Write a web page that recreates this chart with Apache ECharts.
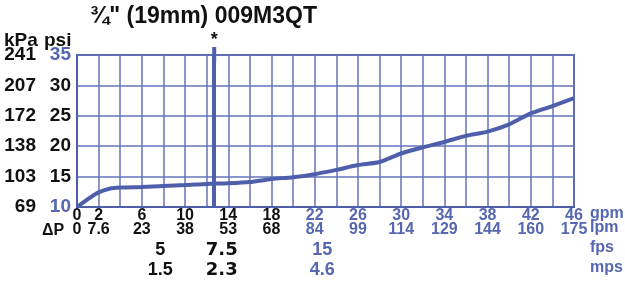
<!DOCTYPE html>
<html>
<head>
<meta charset="utf-8">
<script src="https://cdn.jsdelivr.net/npm/echarts@6/dist/echarts.min.js"></script>
<style>
  html, body { margin: 0; padding: 0; background: #fff; }
  #main { width: 625px; height: 297px; }
</style>
</head>
<body>
<div id="main"></div>
<script>
  // flow vs pressure drop
  const flowGpm = [0, 1, 2, 3, 4, 6, 8, 10, 12, 14, 16, 18, 20, 22, 24, 26, 28, 30, 32, 34, 36, 38, 40, 42, 44, 46];
  const dropPsi = [10, 11.3, 12.4, 13.0, 13.2, 13.3, 13.45, 13.6, 13.8, 13.9, 14.1, 14.6, 14.9, 15.4, 16.1, 16.9, 17.4, 18.8, 19.8, 20.7, 21.7, 22.4, 23.6, 25.4, 26.6, 27.9];

  // bottom scale labels
  const gpmTicks = [0, 2, 6, 10, 14, 18, 22, 26, 30, 34, 38, 42, 46];
  const lpmTicks = ['0', '7.6', '23', '38', '53', '68', '84', '99', '114', '129', '144', '160', '175'];
  // velocity labels (placed at their flow value)
  const velGpm = [7.7, 13.4, 22.7];
  const fpsLabels = ['5', '7.5', '15'];
  const mpsLabels = ['1.5', '2.3', '4.6'];
  // left scale labels
  const psiTicks = [10, 15, 20, 25, 30, 35];
  const kpaTicks = ['69', '103', '138', '172', '207', '241'];
  // marked flow (*)
  const markerGpm = 12.7;

  const BLUE = '#4f5eab';
  const GRID = '#6573bb';
  const TXTBLUE = '#5666b1';
  const SANS = '"Liberation Sans", Arial, sans-serif';
  const HEAVY = '"DejaVu Sans", sans-serif';

  let myChart = echarts.init(document.getElementById('main'));

  let option = {
    animation: false,
    grid: {
      left: 77, right: 51, top: 55, bottom: 90,
      show: true, borderColor: BLUE, borderWidth: 2,
      outerBoundsMode: 'none'
    },
    xAxis: [
      {
        type: 'value', min: 0, max: 46, interval: 2,
        axisLine: { show: true, lineStyle: { color: BLUE, width: 2 } },
        axisTick: { show: false },
        splitLine: { show: true, lineStyle: { color: GRID, width: 1.5 } },
        axisLabel: {
          customValues: gpmTicks,
          margin: 1,
          formatter: function (v) {
            let i = gpmTicks.indexOf(v);
            let s = v >= 22 ? 'u' : 'k';
            return '{' + s + '|' + v + '}\n{' + s + '|' + lpmTicks[i] + '}';
          },
          rich: {
            k: { color: '#111', fontFamily: SANS, fontWeight: 'bold', fontSize: 16, lineHeight: 14.5 },
            u: { color: TXTBLUE, fontFamily: SANS, fontWeight: 'bold', fontSize: 16, lineHeight: 14.5 }
          }
        }
      },
      {
        type: 'value', min: 0, max: 46, position: 'bottom', offset: 32,
        axisLine: { show: false },
        axisTick: { show: false },
        splitLine: { show: false },
        axisLabel: {
          customValues: velGpm,
          margin: 1,
          formatter: function (v) {
            let i = velGpm.indexOf(v);
            let s = ['k', 'b', 'u'][i];
            return '{' + s + '|' + fpsLabels[i] + '}\n{' + s + '|' + mpsLabels[i] + '}';
          },
          rich: {
            k: { color: '#111', fontFamily: SANS, fontWeight: 'bold', fontSize: 18, lineHeight: 20 },
            b: { color: '#111', fontFamily: HEAVY, fontWeight: 'bold', fontSize: 18, lineHeight: 20 },
            u: { color: TXTBLUE, fontFamily: SANS, fontWeight: 'bold', fontSize: 18, lineHeight: 20 }
          }
        }
      }
    ],
    yAxis: {
      type: 'value', min: 10, max: 35, interval: 5,
      axisLine: { show: true, lineStyle: { color: BLUE, width: 2 } },
      axisTick: { show: false },
      splitLine: { show: true, lineStyle: { color: GRID, width: 1.5 } },
      axisLabel: {
        margin: 6,
        formatter: function (v) {
          let i = psiTicks.indexOf(v);
          let p = (v === 10 || v === 35) ? 'pb' : 'p';
          return '{k|' + kpaTicks[i] + '}{' + p + '|' + v + '}';
        },
        rich: {
          k: { color: '#111', fontFamily: SANS, fontWeight: 'bold', fontSize: 19, width: 30, align: 'right' },
          p: { color: '#111', fontFamily: SANS, fontWeight: 'bold', fontSize: 19, width: 35, align: 'right' },
          pb: { color: TXTBLUE, fontFamily: SANS, fontWeight: 'bold', fontSize: 19, width: 35, align: 'right' }
        }
      }
    },
    graphic: [
      { type: 'text', left: 90, top: 5, style: { text: '¾" (19mm) 009M3QT', font: 'bold 23px ' + SANS, fill: '#111' } },
      { type: 'text', left: 4, top: 31, style: { text: 'kPa', font: 'bold 19px ' + SANS, fill: '#111' } },
      { type: 'text', left: 44, top: 31, style: { text: 'psi', font: 'bold 19px ' + SANS, fill: '#111' } },
      { type: 'text', left: 42, top: 223, style: { text: 'ΔP', font: 'bold 16px ' + SANS, fill: '#111' } },
      { type: 'text', left: 590, top: 206, style: { text: 'gpm', font: 'bold 16px ' + SANS, fill: TXTBLUE } },
      { type: 'text', left: 590, top: 220, style: { text: 'lpm', font: 'bold 16px ' + SANS, fill: TXTBLUE } },
      { type: 'text', left: 590, top: 240, style: { text: 'fps', font: 'bold 16px ' + SANS, fill: TXTBLUE } },
      { type: 'text', left: 590, top: 260, style: { text: 'mps', font: 'bold 16px ' + SANS, fill: TXTBLUE } }
    ],
    series: [
      {
        type: 'line',
        data: flowGpm.map((g, i) => [g, dropPsi[i]]),
        showSymbol: false,
        smooth: 0.25,
        lineStyle: { color: BLUE, width: 4 },
        z: 5,
        markLine: {
          silent: true,
          symbol: ['none', 'rect'],
          symbolSize: [4, 16],
          lineStyle: { color: BLUE, width: 4, type: 'solid' },
          label: { show: true, position: 'end', formatter: '*', color: '#111', fontSize: 18, fontWeight: 'bold', distance: 6 },
          data: [[{ coord: [markerGpm, 10] }, { coord: [markerGpm, 35] }]]
        }
      }
    ]
  };

  myChart.setOption(option);
</script>
</body>
</html>
